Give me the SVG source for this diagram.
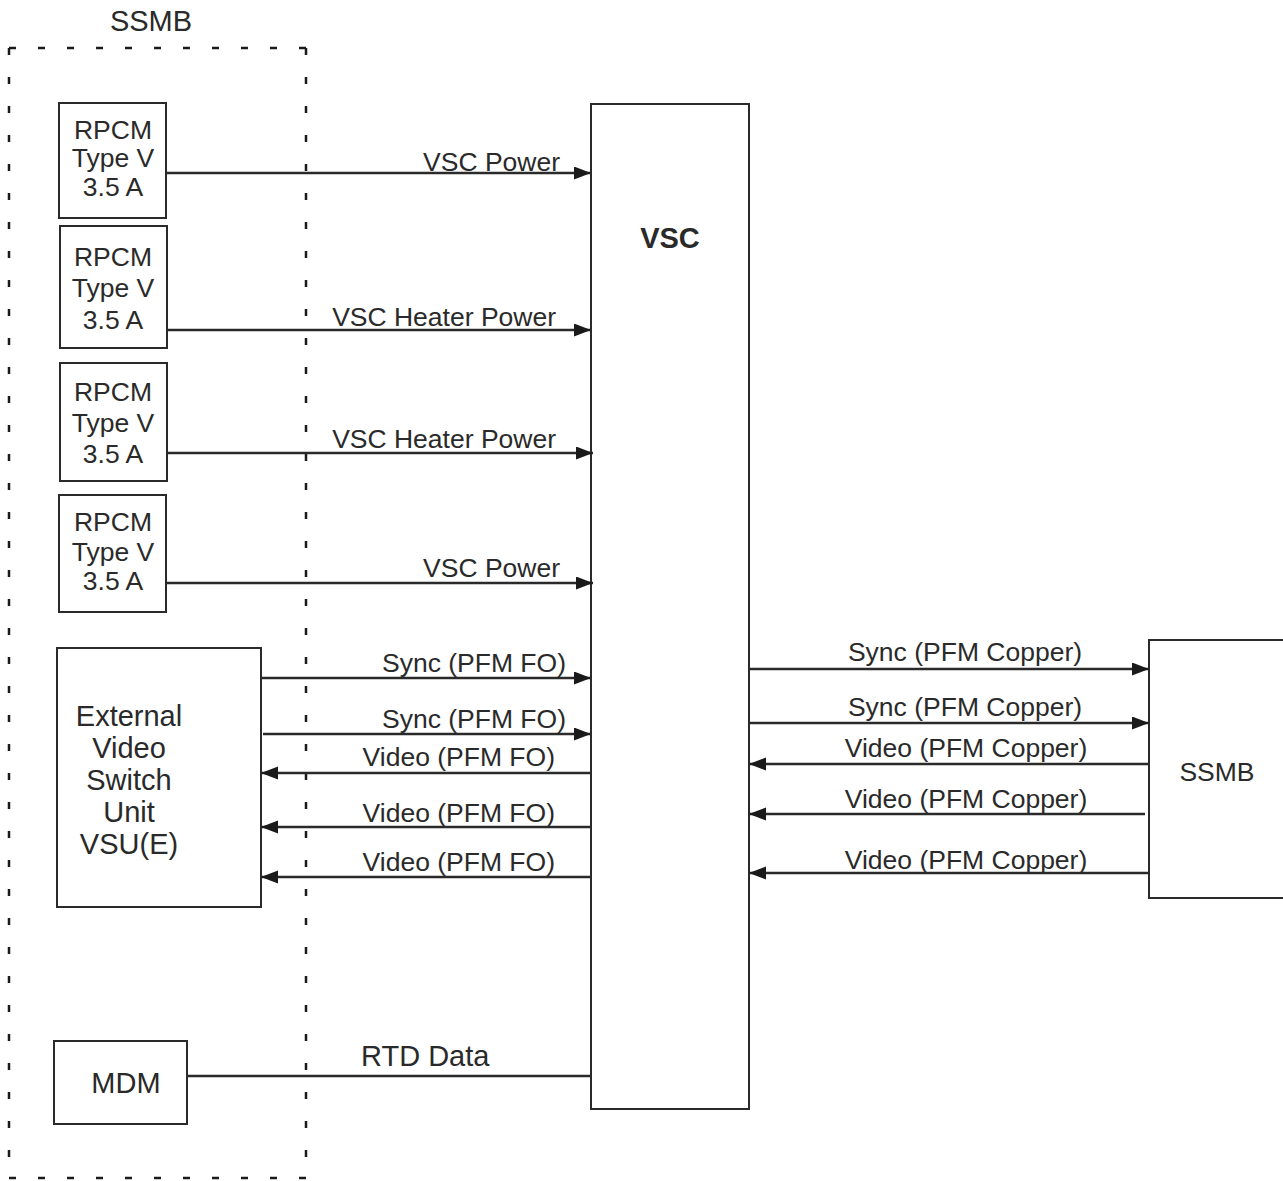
<svg xmlns="http://www.w3.org/2000/svg" width="1283" height="1181" viewBox="0 0 1283 1181">
<style>
text{font-family:"Liberation Sans",Arial,sans-serif;font-size:26.5px;fill:#2a2a2a}
.big{font-size:29px}
.box{fill:#fff;stroke:#2a2a2a;stroke-width:2}
.ln{stroke:#2a2a2a;stroke-width:2.5;fill:none}
.dash{stroke:#1a1a1a;stroke-width:2.5;fill:none;stroke-dasharray:7 22}
.mid{text-anchor:middle}
.end{text-anchor:end}
</style>
<defs>
<marker id="ah" markerUnits="userSpaceOnUse" markerWidth="18" markerHeight="14" refX="17" refY="6.5" orient="auto">
<path d="M0,0 L17,6.5 L0,13 Z" fill="#1a1a1a"/>
</marker>
</defs>
<g id="ssmb-group">
<text x="151" y="31" class="mid big">SSMB</text>
<path class="dash" d="M9,48 L306,48 M306,48 L306,1178 M9,1178 L306,1178 M9,48 L9,1178"/>
</g>
<g id="rpcm1"><rect class="box" x="59" y="103" width="107" height="115"/>
<text x="113" y="139" class="mid">RPCM</text><text x="113" y="167" class="mid">Type V</text><text x="113" y="196" class="mid">3.5 A</text></g>
<g id="rpcm2"><rect class="box" x="60" y="226" width="107" height="122"/>
<text x="113" y="266" class="mid">RPCM</text><text x="113" y="297" class="mid">Type V</text><text x="113" y="329" class="mid">3.5 A</text></g>
<g id="rpcm3"><rect class="box" x="60" y="363" width="107" height="118"/>
<text x="113" y="401" class="mid">RPCM</text><text x="113" y="432" class="mid">Type V</text><text x="113" y="463" class="mid">3.5 A</text></g>
<g id="rpcm4"><rect class="box" x="59" y="495" width="107" height="117"/>
<text x="113" y="531" class="mid">RPCM</text><text x="113" y="561" class="mid">Type V</text><text x="113" y="590" class="mid">3.5 A</text></g>
<g id="vsu"><rect class="box" x="57" y="648" width="204" height="259"/>
<text x="129" y="726" class="mid big">External</text><text x="129" y="758" class="mid big">Video</text><text x="129" y="790" class="mid big">Switch</text><text x="129" y="822" class="mid big">Unit</text><text x="129" y="854" class="mid big">VSU(E)</text></g>
<g id="mdm"><rect class="box" x="54" y="1041" width="133" height="83"/>
<text x="126" y="1093" class="mid big">MDM</text></g>
<g id="vsc"><rect class="box" x="591" y="104" width="158" height="1005"/>
<text x="670" y="248" class="mid big" style="font-weight:bold">VSC</text></g>
<g id="ssmb-right"><rect class="box" x="1149" y="640" width="140" height="258"/>
<text x="1217" y="781" class="mid">SSMB</text></g>
<g id="connectors">
<line class="ln" x1="166" y1="173" x2="591" y2="173" marker-end="url(#ah)"/>
<line class="ln" x1="167" y1="330" x2="591" y2="330" marker-end="url(#ah)"/>
<line class="ln" x1="167" y1="453" x2="593" y2="453" marker-end="url(#ah)"/>
<line class="ln" x1="166" y1="583" x2="593" y2="583" marker-end="url(#ah)"/>
<line class="ln" x1="261" y1="678" x2="591" y2="678" marker-end="url(#ah)"/>
<line class="ln" x1="263" y1="734" x2="591" y2="734" marker-end="url(#ah)"/>
<line class="ln" x1="591" y1="773" x2="261" y2="773" marker-end="url(#ah)"/>
<line class="ln" x1="591" y1="827" x2="261" y2="827" marker-end="url(#ah)"/>
<line class="ln" x1="591" y1="877" x2="261" y2="877" marker-end="url(#ah)"/>
<line class="ln" x1="749" y1="669" x2="1149" y2="669" marker-end="url(#ah)"/>
<line class="ln" x1="749" y1="723" x2="1149" y2="723" marker-end="url(#ah)"/>
<line class="ln" x1="1149" y1="764" x2="749" y2="764" marker-end="url(#ah)"/>
<line class="ln" x1="1145" y1="814" x2="749" y2="814" marker-end="url(#ah)"/>
<line class="ln" x1="1149" y1="873" x2="749" y2="873" marker-end="url(#ah)"/>
<line class="ln" x1="187" y1="1076" x2="591" y2="1076"/>
<text x="560" y="171" class="end">VSC Power</text>
<text x="556" y="326" class="end">VSC Heater Power</text>
<text x="556" y="448" class="end">VSC Heater Power</text>
<text x="560" y="577" class="end">VSC Power</text>
<text x="566" y="672" class="end">Sync (PFM FO)</text>
<text x="566" y="728" class="end">Sync (PFM FO)</text>
<text x="555" y="766" class="end">Video (PFM FO)</text>
<text x="555" y="822" class="end">Video (PFM FO)</text>
<text x="555" y="871" class="end">Video (PFM FO)</text>
<text x="965" y="661" class="mid">Sync (PFM Copper)</text>
<text x="965" y="716" class="mid">Sync (PFM Copper)</text>
<text x="966" y="757" class="mid">Video (PFM Copper)</text>
<text x="966" y="808" class="mid">Video (PFM Copper)</text>
<text x="966" y="869" class="mid">Video (PFM Copper)</text>
<text x="361" y="1066" class="big">RTD Data</text>
</g>
</svg>
